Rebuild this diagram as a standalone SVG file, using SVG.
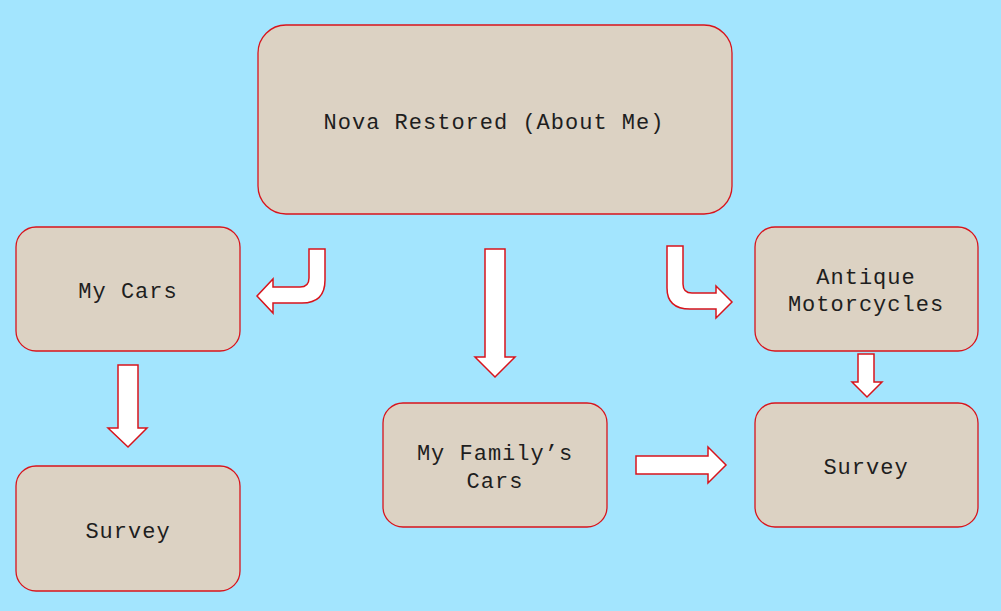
<svg xmlns="http://www.w3.org/2000/svg" width="1001" height="611" viewBox="0 0 1001 611">
<style>
.box{fill:#dcd2c3;stroke:#d8141c;stroke-width:1.3}
.arr{fill:#ffffff;stroke:#d8141c;stroke-width:1.5;stroke-linejoin:miter}
.t{font-family:"Liberation Mono","Courier New",monospace;font-size:22px;letter-spacing:1px;fill:#1e1e1e;text-anchor:middle}
</style>
<rect x="0" y="0" width="1001" height="611" fill="#a3e5fe"/>
<g id="nova"><rect class="box" x="258" y="25" width="474" height="189" rx="28" ry="28"/><text class="t" x="494" y="129">Nova Restored (About Me)</text></g>
<g id="mycars"><rect class="box" x="16" y="227" width="224" height="124" rx="20" ry="20"/><text class="t" x="128" y="298">My Cars</text></g>
<g id="antique"><rect class="box" x="755" y="227" width="223" height="124" rx="20" ry="20"/><text class="t" x="866" y="284">Antique</text><text class="t" x="866" y="311">Motorcycles</text></g>
<g id="survey-left"><rect class="box" x="16" y="466" width="224" height="125" rx="20" ry="20"/><text class="t" x="128" y="538">Survey</text></g>
<g id="family"><rect class="box" x="383" y="403" width="224" height="124" rx="20" ry="20"/><text class="t" x="495" y="460">My Family’s</text><text class="t" x="495" y="488">Cars</text></g>
<g id="survey-right"><rect class="box" x="755" y="403" width="223" height="124" rx="20" ry="20"/><text class="t" x="866" y="474">Survey</text></g>
<g id="connectors">
<path class="arr" d="M309,249 L325,249 L325,280 Q325,303 302,303 L273,303 L273,313 L257,296 L273,279 L273,287 L300,287 Q309,287 309,278 Z"/>
<path class="arr" d="M667,246 L683,246 L683,284 Q683,293 692,293 L716,293 L716,286 L732,302 L716,318 L716,309 L690,309 Q667,309 667,288 Z"/>
<path class="arr" d="M485,249 L505,249 L505,357 L515,357 L495,377 L475,357 L485,357 Z"/>
<path class="arr" d="M118,365 L138,365 L138,428 L147,428 L128,447 L108,428 L118,428 Z"/>
<path class="arr" d="M858,354 L874,354 L874,382 L882,382 L867,397 L852,382 L858,382 Z"/>
<path class="arr" d="M636,456 L708,456 L708,447 L726,465 L708,483 L708,474 L636,474 Z"/>
</g>
</svg>
